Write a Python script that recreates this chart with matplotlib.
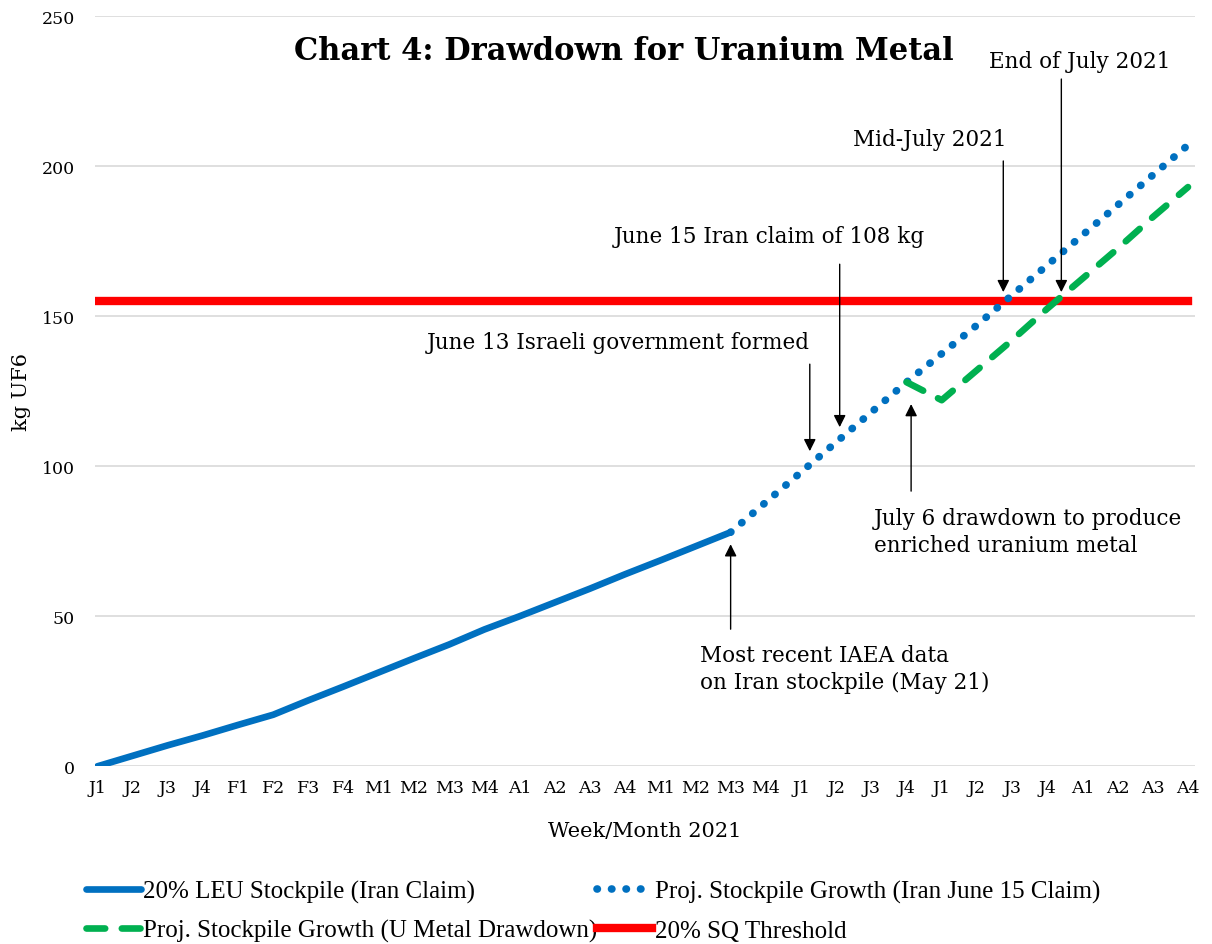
import matplotlib
matplotlib.use("Agg")
import matplotlib.pyplot as plt

# -------------------------
# DATA
# -------------------------
weeks = ["J1", "J2", "J3", "J4", "F1", "F2", "F3", "F4",
         "M1", "M2", "M3", "M4", "A1", "A2", "A3", "A4",
         "M1", "M2", "M3", "M4", "J1", "J2", "J3", "J4",
         "J1", "J2", "J3", "J4", "A1", "A2", "A3", "A4"]

leu_x = list(range(0, 19))
leu_stockpile = [0, 3.5, 7, 10.3, 13.8, 17.2, 22, 26.6, 31.3, 36,
                 40.6, 45.6, 50, 54.6, 59.2, 64, 68.6, 73.3, 78]

proj_x = list(range(18, 32))
proj_growth = [78, 88, 98, 108, 118, 128, 137.5, 147, 157, 167,
               177, 187, 197, 207]

metal_x = list(range(23, 32))
metal_growth = [128, 122, 132, 142, 152.5, 162.5, 172.5, 183, 193]

sq_threshold = [155] * len(weeks)

SERIF = ["DejaVu Serif"]

# -------------------------
# FIGURE
# -------------------------
fig = plt.figure(figsize=(12.12, 9.45), dpi=100)
ax = fig.add_axes([0.078, 0.188, 0.908, 0.794])

l_leu, = ax.plot(leu_x, leu_stockpile, color="#0070c0", lw=4.8,
                 solid_capstyle="round", label="20% LEU Stockpile (Iran Claim)", zorder=3)
l_proj, = ax.plot(proj_x, proj_growth, color="#0070c0", lw=5.5,
                  linestyle=(0, (0.05, 1.85)), dash_capstyle="round",
                  label="Proj. Stockpile Growth (Iran June 15 Claim)", zorder=3)
l_metal, = ax.plot(metal_x, metal_growth, color="#00b050", lw=4.8,
                   linestyle=(0, (2.8, 2.5)), dash_capstyle="round",
                   label="Proj. Stockpile Growth (U Metal Drawdown)", zorder=4)
l_sq, = ax.plot(range(len(weeks)), sq_threshold, color="#ff0000", lw=6,
                solid_capstyle="projecting", label="20% SQ Threshold", zorder=2)

ax.set_xlim(-0.08, 31.2)
ax.set_ylim(0, 250)
ax.set_yticks([0, 50, 100, 150, 200, 250])
ax.set_xticks(range(len(weeks)))
ax.set_xticklabels(weeks)
ax.grid(axis="y", color="#d9d9d9", lw=1.2)
ax.set_axisbelow(True)
for s in ax.spines.values():
    s.set_visible(False)
ax.tick_params(length=0, labelsize=12.5)
ax.tick_params(axis="y", pad=14)
ax.tick_params(axis="x", pad=9)
for lab in ax.get_xticklabels() + ax.get_yticklabels():
    lab.set_family(SERIF)

ax.set_xlabel("Week/Month 2021", family=SERIF, fontsize=15, labelpad=18)
ax.set_ylabel("kg UF6", family=SERIF, fontsize=15, labelpad=8)

fig.text(0.515, 0.945, "Chart 4: Drawdown for Uranium Metal",
         family=SERIF, fontsize=22, fontweight="bold", ha="center", va="center")

# -------------------------
# ANNOTATIONS
# -------------------------
arrow = dict(arrowstyle="-|>", color="black", lw=1, mutation_scale=18,
             shrinkA=0, shrinkB=0)
fs = 15.5

ax.text(17.12, 32.7, "Most recent IAEA data\non Iran stockpile (May 21)",
        family=SERIF, fontsize=fs, ha="left", va="center", linespacing=1.3)
ax.annotate("", xy=(18, 74), xytext=(18, 45.7), arrowprops=arrow)

ax.text(14.8, 141.3, "June 13 Israeli government formed",
        family=SERIF, fontsize=fs, ha="center", va="center")
ax.annotate("", xy=(20.25, 105), xytext=(20.25, 134), arrowprops=arrow)

ax.text(19.1, 176.7, "June 15 Iran claim of 108 kg",
        family=SERIF, fontsize=fs, ha="center", va="center")
ax.annotate("", xy=(21.1, 113), xytext=(21.1, 167.3), arrowprops=arrow)

ax.text(22.08, 78.3, "July 6 drawdown to produce\nenriched uranium metal",
        family=SERIF, fontsize=fs, ha="left", va="center", linespacing=1.3)
ax.annotate("", xy=(23.13, 120.7), xytext=(23.13, 91.7), arrowprops=arrow)

ax.text(23.67, 209, "Mid-July 2021",
        family=SERIF, fontsize=fs, ha="center", va="center")
ax.annotate("", xy=(25.75, 158), xytext=(25.75, 201.7), arrowprops=arrow)

ax.text(27.92, 235, "End of July 2021",
        family=SERIF, fontsize=fs, ha="center", va="center")
ax.annotate("", xy=(27.4, 158), xytext=(27.4, 229), arrowprops=arrow)

# -------------------------
# LEGEND (row-wise order like the original)
# -------------------------
handles = [l_leu, l_metal, l_proj, l_sq]
labels = [h.get_label() for h in handles]
fig.legend(handles, labels, loc="lower left", bbox_to_anchor=(0.052, -0.022),
           ncol=2, frameon=False, handlelength=2.2, handletextpad=0.1,
           columnspacing=0.0, labelspacing=0.65,
           prop={"family": "Liberation Serif", "size": 18})

fig.savefig("out.png", dpi=100)
